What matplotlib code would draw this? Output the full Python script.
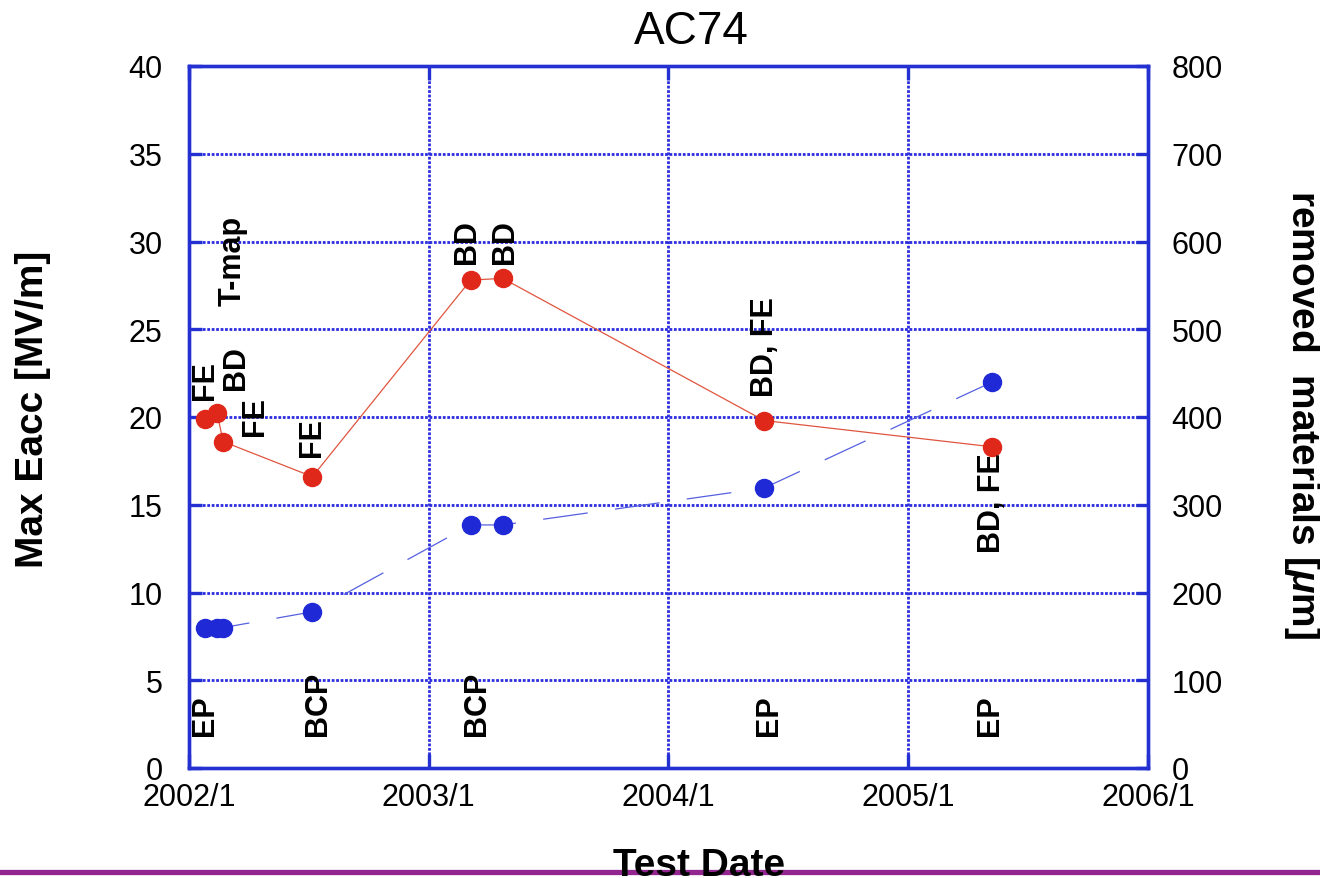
from datetime import datetime

import matplotlib
matplotlib.use("Agg")
import matplotlib.pyplot as plt
from matplotlib.lines import Line2D

plt.rcParams['font.family'] = ['Liberation Sans', 'DejaVu Sans']
plt.rcParams['mathtext.fontset'] = 'custom'
plt.rcParams['mathtext.it'] = 'Liberation Sans:bold:italic'
plt.rcParams['mathtext.rm'] = 'Liberation Sans:bold'

# test dates of the cavity
test_dates = [datetime(2002, 1, 25), datetime(2002, 2, 13), datetime(2002, 2, 22),
              datetime(2002, 7, 8), datetime(2003, 3, 6), datetime(2003, 4, 24),
              datetime(2004, 5, 26), datetime(2005, 5, 9)]
# max accelerating gradient [MV/m]
max_eacc = [19.9, 20.2, 18.6, 16.6, 27.8, 27.9, 19.8, 18.3]
# accumulated removed material [um]
removed_um = [160, 160, 160, 178, 277, 277, 319, 440]

year_ticks = [2002, 2003, 2004, 2005, 2006]
eacc_ticks = [0, 5, 10, 15, 20, 25, 30, 35, 40]
removed_ticks = [0, 100, 200, 300, 400, 500, 600, 700, 800]

# limitation labels above the gradient points
limit_labels = [("FE", datetime(2002, 1, 25), 21.0),
                ("BD", datetime(2002, 3, 13), 21.6),
                ("FE", datetime(2002, 4, 12), 19.0),
                ("FE", datetime(2002, 7, 8), 17.8),
                ("T-map", datetime(2002, 3, 8), 26.4),
                ("BD", datetime(2003, 3, 1), 28.8),
                ("BD", datetime(2003, 4, 28), 28.8),
                ("BD, FE", datetime(2004, 5, 27), 21.2),
                ("BD, FE", datetime(2005, 5, 9), 12.3)]
# surface treatment labels near the bottom
treat_labels = [("EP", datetime(2002, 1, 25)),
                ("BCP", datetime(2002, 7, 16)),
                ("BCP", datetime(2003, 3, 16)),
                ("EP", datetime(2004, 6, 3)),
                ("EP", datetime(2005, 5, 5))]

RED = '#e0281a'
BLUE = '#1f2ad6'
FRAME = '#2430d2'

fig = plt.figure(figsize=(13.2, 8.79), dpi=100)
ax = fig.add_axes([189 / 1320, 1 - 769 / 879, (1148 - 189) / 1320, (769 - 67) / 879])
ax2 = ax.twinx()

ax.plot(test_dates, max_eacc, color='#e0553f', lw=0.9, zorder=3)
ax.plot(test_dates, max_eacc, 'o', color=RED, ms=13, mec=RED, zorder=4)

line, = ax2.plot(test_dates, removed_um, color='#5560e0', lw=0.9, zorder=3)
line.set_dashes([36, 22])
ax2.plot(test_dates, removed_um, 'o', color=BLUE, ms=13, mec=BLUE, zorder=4)

ax.set_xlim(datetime(2002, 1, 1), datetime(2006, 1, 1))
ax.set_ylim(0, 40)
ax2.set_ylim(0, 800)

ax.set_xticks([datetime(y, 1, 1) for y in year_ticks])
ax.set_xticklabels([f"{y}/1" for y in year_ticks])
ax.set_yticks(eacc_ticks)
ax.set_yticklabels([str(v) for v in eacc_ticks])
ax2.set_yticks(removed_ticks)
ax2.set_yticklabels([str(v) for v in removed_ticks])

ax.grid(True, color='#2c2ce0', linestyle=(0, (1.0, 0.6)), lw=2.0, zorder=1)
ax.set_axisbelow(True)

for a in (ax, ax2):
    for sp in a.spines.values():
        sp.set_color(FRAME)
        sp.set_linewidth(2.4)
ax.tick_params(axis='y', direction='in', length=9, width=2.4, color=FRAME,
               labelsize=22, pad=19, left=True, right=False)
ax.tick_params(axis='x', direction='in', length=10, width=2.4, color=FRAME,
               labelsize=22, pad=10, top=True, bottom=True)
ax2.tick_params(axis='y', direction='in', length=9, width=2.4, color=FRAME,
                labelsize=22, pad=17)

for txt, d, y in limit_labels:
    ax.text(d, y, txt, rotation=90, ha='center', va='bottom',
            fontsize=22, fontweight='bold', zorder=5)
for txt, d in treat_labels:
    ax.text(d, 1.9, txt, rotation=90, ha='center', va='bottom',
            fontsize=22, fontweight='bold', zorder=5)

fig.text(0.524, 0.9636, "AC74", ha='center', va='center', fontsize=33)
fig.text(0.025, 0.534, "Max Eacc [MV/m]", rotation=90, ha='center', va='center',
         fontsize=28, fontweight='bold')
fig.text(0.9864, 0.528, r"removed  materials [$\mu$m]", rotation=270,
         ha='center', va='center', fontsize=28, fontweight='bold')

# purple rule along the bottom edge, with the axis title over it
fig.add_artist(Line2D([0, 1], [1 - 873 / 879] * 2, color='#922590', lw=3.8,
                      transform=fig.transFigure, zorder=1))
fig.text(0.5295, -0.006, "Test Date", ha='center', va='bottom', fontsize=28,
         fontweight='bold', zorder=2)

fig.savefig("out.png", dpi=100)
